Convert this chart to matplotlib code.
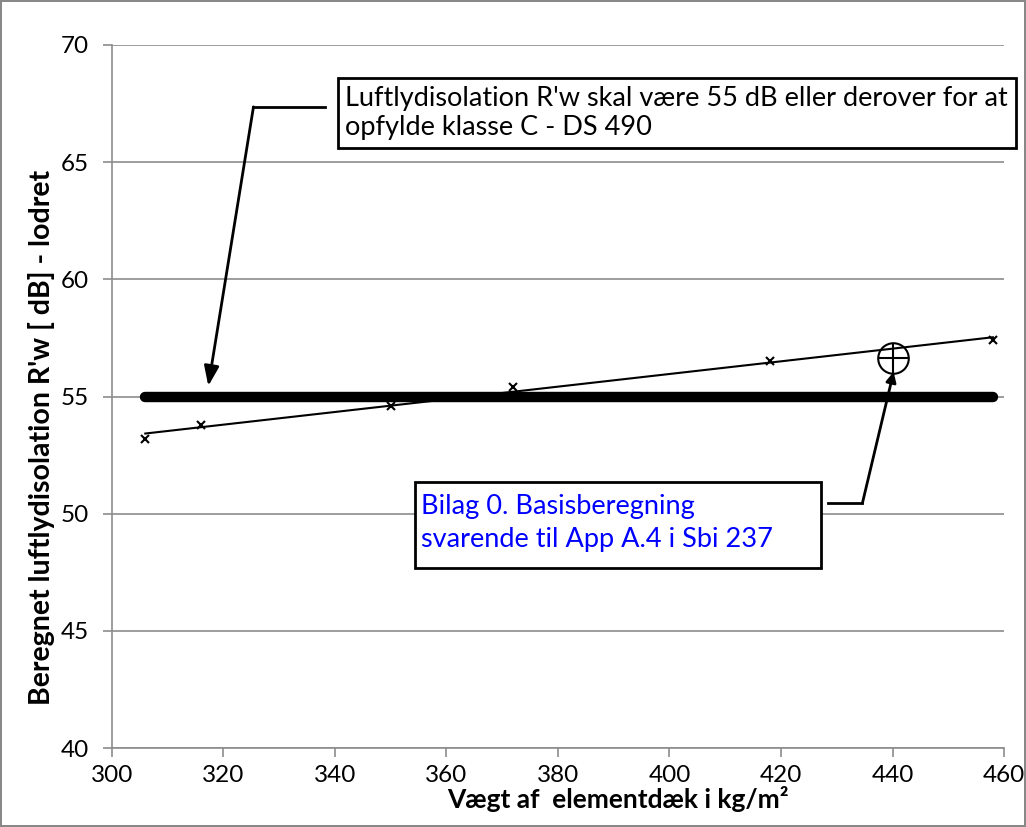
import numpy as np
import matplotlib
matplotlib.use("Agg")
import matplotlib.pyplot as plt
from matplotlib.patches import Rectangle

# ================= DATA =================

vaegt = [306, 316, 350, 372, 418, 458]
rw_beregnet = [53.2, 53.8, 54.6, 55.4, 56.5, 57.4]

krav_x = [306, 458]
krav_rw = [55, 55]

basis_x = [440]
basis_rw = [56.65]

x_ticks = [300, 320, 340, 360, 380, 400, 420, 440, 460]
y_ticks = [40, 45, 50, 55, 60, 65, 70]

# ================= FIGURE =================

plt.rcParams["font.family"] = ["Lato", "DejaVu Sans"]

fig = plt.figure(figsize=(10.26, 8.27), dpi=100)
fig.patch.set_edgecolor("#888888")
fig.patch.set_linewidth(1.5)

ax = fig.add_axes([0.109, 0.0955, 0.8696, 0.8501])

ax.set_xlim(300, 460)
ax.set_ylim(40, 70)
ax.set_xticks(x_ticks)
ax.set_yticks(y_ticks)

ax.grid(axis="y", color="#8c8c8c", linewidth=1.2)
ax.set_axisbelow(True)

for side in ["top", "right"]:
    ax.spines[side].set_visible(False)
for side in ["left", "bottom"]:
    ax.spines[side].set_color("#8c8c8c")
    ax.spines[side].set_linewidth(1.2)

ax.tick_params(
    direction="out",
    length=6.5,
    color="#8c8c8c",
    width=1.2,
    labelsize=17.5
)
ax.tick_params(axis="y", pad=10)
ax.tick_params(axis="x", pad=6)

# ================= LINES =================

ax.plot(
    krav_x,
    krav_rw,
    color="black",
    linewidth=7.5,
    solid_capstyle="round",
    zorder=3
)

koef = np.polyfit(vaegt, rw_beregnet, 1)
trend_x = np.array([min(vaegt), max(vaegt)])
ax.plot(
    trend_x,
    np.polyval(koef, trend_x),
    color="black",
    linewidth=1.5,
    zorder=4
)

ax.plot(
    vaegt,
    rw_beregnet,
    linestyle="none",
    marker="x",
    markersize=6,
    markeredgewidth=1.5,
    color="black",
    zorder=5
)

ax.plot(
    basis_x,
    basis_rw,
    linestyle="none",
    marker="o",
    markersize=22,
    markerfacecolor="none",
    markeredgecolor="black",
    markeredgewidth=1.5,
    zorder=6
)
ax.plot(
    basis_x,
    basis_rw,
    linestyle="none",
    marker="+",
    markersize=22,
    markeredgecolor="black",
    markeredgewidth=1.5,
    zorder=6
)

# ================= LABELS =================

ax.set_xlabel(
    "Vægt af  elementdæk i kg/m²",
    fontsize=19,
    fontweight="bold",
    labelpad=0
)
ax.xaxis.label.set_x(0.567)

ax.set_ylabel(
    "Beregnet luftlydisolation R'w [ dB] - lodret",
    fontsize=20.5,
    fontweight="bold",
    labelpad=4
)
ax.yaxis.label.set_y(0.442)

# ================= CALLOUTS =================

ax.text(
    341.9, 67.1,
    "Luftlydisolation R'w skal være 55 dB eller derover for at\nopfylde klasse C - DS 490",
    fontsize=19.5,
    va="center",
    ha="left",
    linespacing=1.2,
    bbox=dict(boxstyle="square,pad=0.28", facecolor="white",
              edgecolor="black", linewidth=2),
    clip_on=False,
    zorder=7
)
ax.plot([338.3, 325.4], [67.36, 67.36], color="black", linewidth=2, zorder=7)
ax.annotate(
    "",
    xy=(317.3, 55.45),
    xytext=(325.4, 67.36),
    arrowprops=dict(arrowstyle="-|>,head_length=1.2,head_width=0.45",
                    color="black", linewidth=2, shrinkA=0, shrinkB=0),
    zorder=7
)

ax.add_patch(Rectangle(
    (354.4, 47.68),
    72.7,
    3.67,
    facecolor="white",
    edgecolor="black",
    linewidth=2,
    zorder=7
))
ax.text(
    355.5, 49.6,
    "Bilag 0. Basisberegning\nsvarende til App A.4 i Sbi 237",
    fontsize=19.5,
    color="#0000ff",
    va="center",
    ha="left",
    linespacing=1.38,
    zorder=8
)
ax.plot([428.5, 434.6], [50.45, 50.45], color="black", linewidth=2, zorder=7)
ax.annotate(
    "",
    xy=(440.2, 56.05),
    xytext=(434.6, 50.45),
    arrowprops=dict(arrowstyle="-|>,head_length=0.6,head_width=0.3",
                    color="black", linewidth=2, shrinkA=0, shrinkB=0),
    zorder=7
)

# ================= SAVE =================

fig.savefig("out.png", dpi=100)
